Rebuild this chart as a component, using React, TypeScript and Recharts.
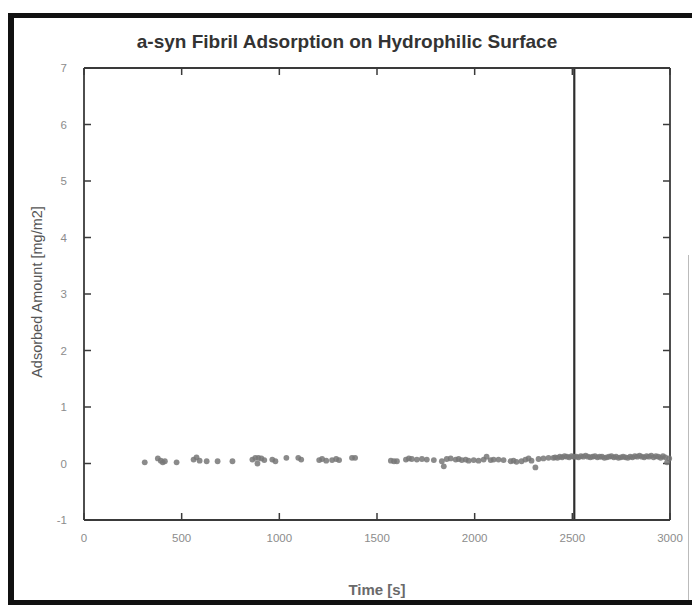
import React from "react";
import {
  ScatterChart,
  Scatter,
  XAxis,
  YAxis,
  ReferenceLine,
} from "recharts";

// measurement times [s] and adsorbed amounts [mg/m2]
const TIMES = [
  311, 378, 393, 403, 414, 474, 561, 576, 592, 628, 684, 760, 862, 877, 888,
  893, 908, 923, 964, 980, 1036, 1097, 1112, 1204, 1219, 1240, 1270, 1291,
  1306, 1372, 1388, 1571, 1587, 1602, 1648, 1663, 1678, 1704, 1730, 1755,
  1791, 1832, 1842, 1857, 1877, 1903, 1918, 1934, 1954, 1969, 1995, 2020,
  2046, 2061, 2082, 2097, 2122, 2148, 2184, 2199, 2214, 2240, 2260, 2276,
  2291, 2311, 2327, 2352, 2378, 2403, 2412, 2424, 2436, 2448, 2460, 2472,
  2484, 2496, 2508, 2520, 2532, 2544, 2556, 2568, 2580, 2592, 2604, 2616,
  2628, 2640, 2652, 2664, 2676, 2688, 2700, 2712, 2724, 2736, 2748, 2760,
  2772, 2784, 2796, 2808, 2820, 2832, 2844, 2856, 2868, 2880, 2892, 2904,
  2916, 2928, 2940, 2952, 2964, 2976, 2985, 2996,
];

const AMOUNTS = [
  0.02, 0.09, 0.05, 0.02, 0.04, 0.02, 0.07, 0.11, 0.05, 0.04, 0.04, 0.04,
  0.07, 0.1, 0.0, 0.1, 0.09, 0.06, 0.07, 0.04, 0.1, 0.1, 0.07, 0.06, 0.08,
  0.05, 0.06, 0.08, 0.06, 0.1, 0.1, 0.05, 0.04, 0.04, 0.07, 0.09, 0.08, 0.07,
  0.08, 0.07, 0.06, 0.04, -0.05, 0.08, 0.09, 0.07, 0.08, 0.06, 0.07, 0.05,
  0.06, 0.05, 0.07, 0.12, 0.06, 0.07, 0.07, 0.06, 0.04, 0.05, 0.03, 0.04,
  0.07, 0.09, 0.05, -0.07, 0.08, 0.09, 0.1, 0.1, 0.11, 0.1, 0.12, 0.11, 0.13,
  0.12, 0.11, 0.13, 0.12, 0.12, 0.11, 0.13, 0.12, 0.14, 0.12, 0.11, 0.12,
  0.13, 0.11, 0.12, 0.12, 0.1, 0.11, 0.12, 0.13, 0.11, 0.12, 0.1, 0.11, 0.12,
  0.11, 0.1, 0.12, 0.11, 0.13, 0.12, 0.14, 0.12, 0.11, 0.13, 0.12, 0.14,
  0.11, 0.13, 0.12, 0.1, 0.13, 0.11, 0.02, 0.09,
];

const X_TICKS = [0, 500, 1000, 1500, 2000, 2500, 3000];
const Y_TICKS = [-1, 0, 1, 2, 3, 4, 5, 6, 7];
const MARKER_TIME = 2510;

const points = TIMES.map((t, i) => ({ time: t, amount: AMOUNTS[i] }));

const FONT = "'Liberation Sans', Arial, sans-serif";
const FRAME = "#3a3a3a";
const TICK_TEXT = "#8c8c8c";
// negative size turns the tick marks inward, gnuplot style
const TICK_LEN = -7;

const BottomTick = ({ x, y, payload }: any) => (
  <text x={x} y={y} textAnchor="middle" fill={TICK_TEXT} fontSize={11.5} fontFamily={FONT}>
    {payload.value}
  </text>
);

const LeftTick = ({ x, y, payload }: any) => (
  <text x={x} y={y + 4} textAnchor="end" fill={TICK_TEXT} fontSize={11.5} fontFamily={FONT}>
    {payload.value}
  </text>
);

const NoLabel = () => <g />;

const Dot = ({ cx, cy }: any) => (
  <circle cx={cx} cy={cy} r={2.9} fill="#777" fillOpacity={0.85} />
);

export default function App() {
  const axisLine = { stroke: FRAME, strokeWidth: 1.8 };
  const tickLine = { stroke: FRAME, strokeWidth: 1.5 };
  return (
    <div
      style={{
        position: "absolute",
        left: 0,
        top: 0,
        width: 692,
        height: 607,
        background: "#fff",
      }}
    >
      <ScatterChart
        width={692}
        height={607}
        margin={{ top: 58, right: 12, bottom: 57, left: 54 }}
      >
        <XAxis
          type="number"
          dataKey="time"
          domain={[0, 3000]}
          ticks={X_TICKS}
          height={30}
          tickSize={TICK_LEN}
          tickMargin={29}
          axisLine={axisLine}
          tickLine={tickLine}
          tick={<BottomTick />}
        />
        <XAxis
          xAxisId="top"
          orientation="top"
          type="number"
          dataKey="time"
          domain={[0, 3000]}
          ticks={X_TICKS}
          height={10}
          tickSize={TICK_LEN}
          tickMargin={0}
          axisLine={axisLine}
          tickLine={tickLine}
          tick={<NoLabel />}
        />
        <YAxis
          type="number"
          dataKey="amount"
          domain={[-1, 7]}
          ticks={Y_TICKS}
          width={30}
          tickSize={TICK_LEN}
          tickMargin={24}
          axisLine={axisLine}
          tickLine={tickLine}
          tick={<LeftTick />}
        />
        <YAxis
          yAxisId="right"
          orientation="right"
          type="number"
          dataKey="amount"
          domain={[-1, 7]}
          ticks={Y_TICKS}
          width={10}
          tickSize={TICK_LEN}
          tickMargin={0}
          axisLine={axisLine}
          tickLine={tickLine}
          tick={<NoLabel />}
        />
        {/* invisible copy so the mirrored top/right axes get their ticks */}
        <Scatter
          data={points}
          xAxisId="top"
          yAxisId="right"
          shape={NoLabel}
          isAnimationActive={false}
        />
        <Scatter data={points} shape={<Dot />} isAnimationActive={false} />
        <ReferenceLine x={MARKER_TIME} stroke="#2e2e2e" strokeWidth={2.2} />
      </ScatterChart>

      {/* title, axis labels and the dark outer border */}
      <svg
        width={692}
        height={607}
        style={{ position: "absolute", left: 0, top: 0, pointerEvents: "none" }}
      >
        <rect x={8} y={13} width={684} height={5} fill="#111" />
        <rect x={8} y={13} width={6} height={592} fill="#111" />
        <rect x={8} y={600} width={684} height={5} fill="#111" />
        <line x1={688.5} x2={688.5} y1={255} y2={600} stroke="#bbb" strokeWidth={1} />
        <text
          x={347}
          y={48}
          textAnchor="middle"
          fontFamily={FONT}
          fontWeight="bold"
          fontSize={19}
          fill="#333"
        >
          a-syn Fibril Adsorption on Hydrophilic Surface
        </text>
        <text
          x={0}
          y={0}
          transform="translate(42, 292) rotate(-90)"
          textAnchor="middle"
          fontFamily={FONT}
          fontSize={14.5}
          fill="#555"
        >
          Adsorbed Amount [mg/m2]
        </text>
        <text
          x={377}
          y={595}
          textAnchor="middle"
          fontFamily={FONT}
          fontWeight="bold"
          fontSize={15}
          fill="#6a6a6a"
        >
          Time [s]
        </text>
      </svg>
    </div>
  );
}
